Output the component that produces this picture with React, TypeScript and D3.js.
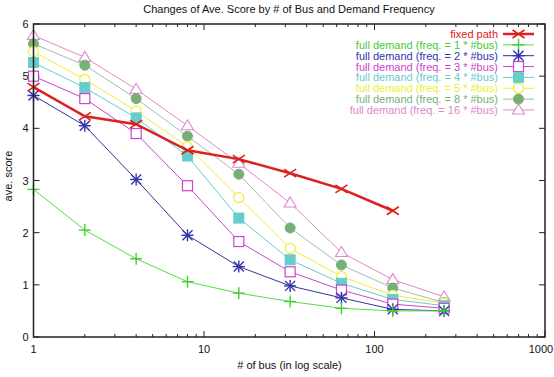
import React from "react";
import * as d3 from "d3";

const buses = [1, 2, 4, 8, 16, 32, 64, 128, 256];
const fixedPath = [4.79, 4.23, 4.08, 3.58, 3.41, 3.14, 2.84, 2.42];
const freq1 = [2.83, 2.05, 1.5, 1.06, 0.84, 0.68, 0.55, 0.5, 0.5];
const freq2 = [4.63, 4.05, 3.02, 1.95, 1.35, 0.98, 0.75, 0.53, 0.5];
const freq3 = [5.0, 4.57, 3.9, 2.9, 1.83, 1.25, 0.9, 0.63, 0.55];
const freq4 = [5.26, 4.78, 4.2, 3.47, 2.28, 1.48, 1.03, 0.72, 0.6];
const freq5 = [5.47, 4.94, 4.33, 3.65, 2.67, 1.7, 1.16, 0.8, 0.65];
const freq8 = [5.62, 5.21, 4.57, 3.85, 3.12, 2.09, 1.38, 0.94, 0.66];
const freq16 = [5.78, 5.36, 4.75, 4.05, 3.33, 2.57, 1.62, 1.1, 0.77];

const seriesNames = [
  "fixed path",
  "full demand (freq. = 1 * #bus)",
  "full demand (freq. = 2 * #bus)",
  "full demand (freq. = 3 * #bus)",
  "full demand (freq. = 4 * #bus)",
  "full demand (freq. = 5 * #bus)",
  "full demand (freq. = 8 * #bus)",
  "full demand (freq. = 16 * #bus)",
];
const seriesValues = [fixedPath, freq1, freq2, freq3, freq4, freq5, freq8, freq16];
const lineColors = ["#dd2020", "#55dd44", "#333399", "#cc44cc", "#66cccc", "#eeee33", "#aabba8", "#e088cc"];
const markColors = ["#dd2020", "#44cc33", "#3333aa", "#cc44cc", "#66cccc", "#eeee33", "#77b077", "#e088cc"];
const markers = ["x", "plus", "star", "square", "fsquare", "circle", "fcircle", "triangle"];
const yTicks = [0, 1, 2, 3, 4, 5, 6];
const xTicks = [1, 10, 100, 1000];

const W = 554, H = 377;
const L = 33.5, R = 545, T = 24, B = 337;

function Marker({ kind, x, y, color }: { kind: string; x: number; y: number; color: string }) {
  const s = 5;
  switch (kind) {
    case "x":
      return (
        <g stroke={color} strokeWidth={1.6}>
          <line x1={x - s - 1} y1={y - s + 1} x2={x + s + 1} y2={y + s - 1} />
          <line x1={x - s - 1} y1={y + s - 1} x2={x + s + 1} y2={y - s + 1} />
        </g>
      );
    case "plus":
      return (
        <g stroke={color} strokeWidth={1.4}>
          <line x1={x - s - 1} y1={y} x2={x + s + 1} y2={y} />
          <line x1={x} y1={y - s - 1} x2={x} y2={y + s + 1} />
        </g>
      );
    case "star":
      return (
        <g stroke={color} strokeWidth={1.4}>
          <line x1={x - s - 1} y1={y} x2={x + s + 1} y2={y} />
          <line x1={x} y1={y - s - 1} x2={x} y2={y + s + 1} />
          <line x1={x - s} y1={y - s} x2={x + s} y2={y + s} />
          <line x1={x - s} y1={y + s} x2={x + s} y2={y - s} />
        </g>
      );
    case "square":
      return <rect x={x - s} y={y - s} width={2 * s} height={2 * s} fill="white" stroke={color} strokeWidth={1.2} />;
    case "fsquare":
      return <rect x={x - s} y={y - s} width={2 * s} height={2 * s} fill={color} stroke={color} strokeWidth={1} />;
    case "circle":
      return <circle cx={x} cy={y} r={s} fill="white" stroke={color} strokeWidth={1.2} />;
    case "fcircle":
      return <circle cx={x} cy={y} r={s} fill={color} stroke={color} strokeWidth={1} />;
    case "triangle":
      return (
        <path
          d={`M${x},${y - s - 1}L${x + s + 1},${y + s - 1}L${x - s - 1},${y + s - 1}Z`}
          fill="white"
          stroke={color}
          strokeWidth={1.1}
        />
      );
  }
  return null;
}

export default function App() {
  const x = d3.scaleLog().domain([1, 1000]).range([L, R]);
  const y = d3.scaleLinear().domain([0, 6]).range([B, T]);
  const minor: number[] = [];
  for (const dec of [1, 10, 100]) for (let k = 2; k <= 9; k++) minor.push(dec * k);

  const line = d3
    .line<[number, number]>()
    .x((d) => x(d[0]))
    .y((d) => y(d[1]));

  const font = "'Liberation Sans', Arial, sans-serif";
  const order = [7, 6, 5, 4, 3, 2, 1, 0];

  const legX = 498;
  const legY0 = 34;
  const legDy = 10.85;

  return (
    <svg width={W} height={H} style={{ position: "absolute", left: 0, top: 0, background: "white" }} fontFamily={font}>
      <text x={289} y={13} fontSize={11} textAnchor="middle" fill="#111">
        Changes of Ave. Score by # of Bus and Demand Frequency
      </text>
      <text transform={`translate(12,176) rotate(-90)`} fontSize={11} textAnchor="middle" fill="#111">
        ave. score
      </text>
      <text x={289.5} y={369} fontSize={11} textAnchor="middle" fill="#111">
        # of bus (in log scale)
      </text>

      <g stroke="#222" strokeWidth={1}>
        {yTicks.map((t) => (
          <g key={t}>
            <line x1={L} x2={L + 6} y1={y(t)} y2={y(t)} />
            <line x1={R} x2={R - 6} y1={y(t)} y2={y(t)} />
          </g>
        ))}
        {xTicks.map((t) => (
          <g key={t}>
            <line x1={x(t)} x2={x(t)} y1={B} y2={B - 6} />
            <line x1={x(t)} x2={x(t)} y1={T} y2={T + 6} />
          </g>
        ))}
        {minor.map((t) => (
          <g key={t}>
            <line x1={x(t)} x2={x(t)} y1={B} y2={B - 3} />
            <line x1={x(t)} x2={x(t)} y1={T} y2={T + 3} />
          </g>
        ))}
      </g>
      {yTicks.map((t) => (
        <text key={t} x={L - 5} y={y(t) + 4} fontSize={11} textAnchor="end" fill="#111">
          {t}
        </text>
      ))}
      {xTicks.map((t) => (
        <text key={t} x={t === 1000 ? 541 : x(t)} y={353} fontSize={11} textAnchor="middle" fill="#111">
          {t}
        </text>
      ))}

      {order.map((i) => {
        const vals = seriesValues[i];
        const pts: [number, number][] = vals.map((v, j) => [buses[j], v]);
        return (
          <g key={i}>
            <path d={line(pts) || ""} fill="none" stroke={lineColors[i]} strokeWidth={i === 0 ? 2.5 : 1} />
            {pts.map((p, j) => (
              <Marker key={j} kind={markers[i]} x={x(p[0])} y={y(p[1])} color={markColors[i]} />
            ))}
          </g>
        );
      })}

      {seriesNames.map((n, i) => {
        const ly = legY0 + i * legDy;
        return (
          <g key={n}>
            <text x={legX} y={ly + 4} fontSize={11} textAnchor="end" fill={markColors[i]}>
              {n}
            </text>
            <line x1={503} x2={534} y1={ly} y2={ly} stroke={lineColors[i]} strokeWidth={i === 0 ? 2.5 : 1} />
            <Marker kind={markers[i]} x={518.5} y={ly} color={markColors[i]} />
          </g>
        );
      })}

      <rect x={L} y={T} width={R - L} height={B - T} fill="none" stroke="#222" strokeWidth={1.5} />
    </svg>
  );
}
